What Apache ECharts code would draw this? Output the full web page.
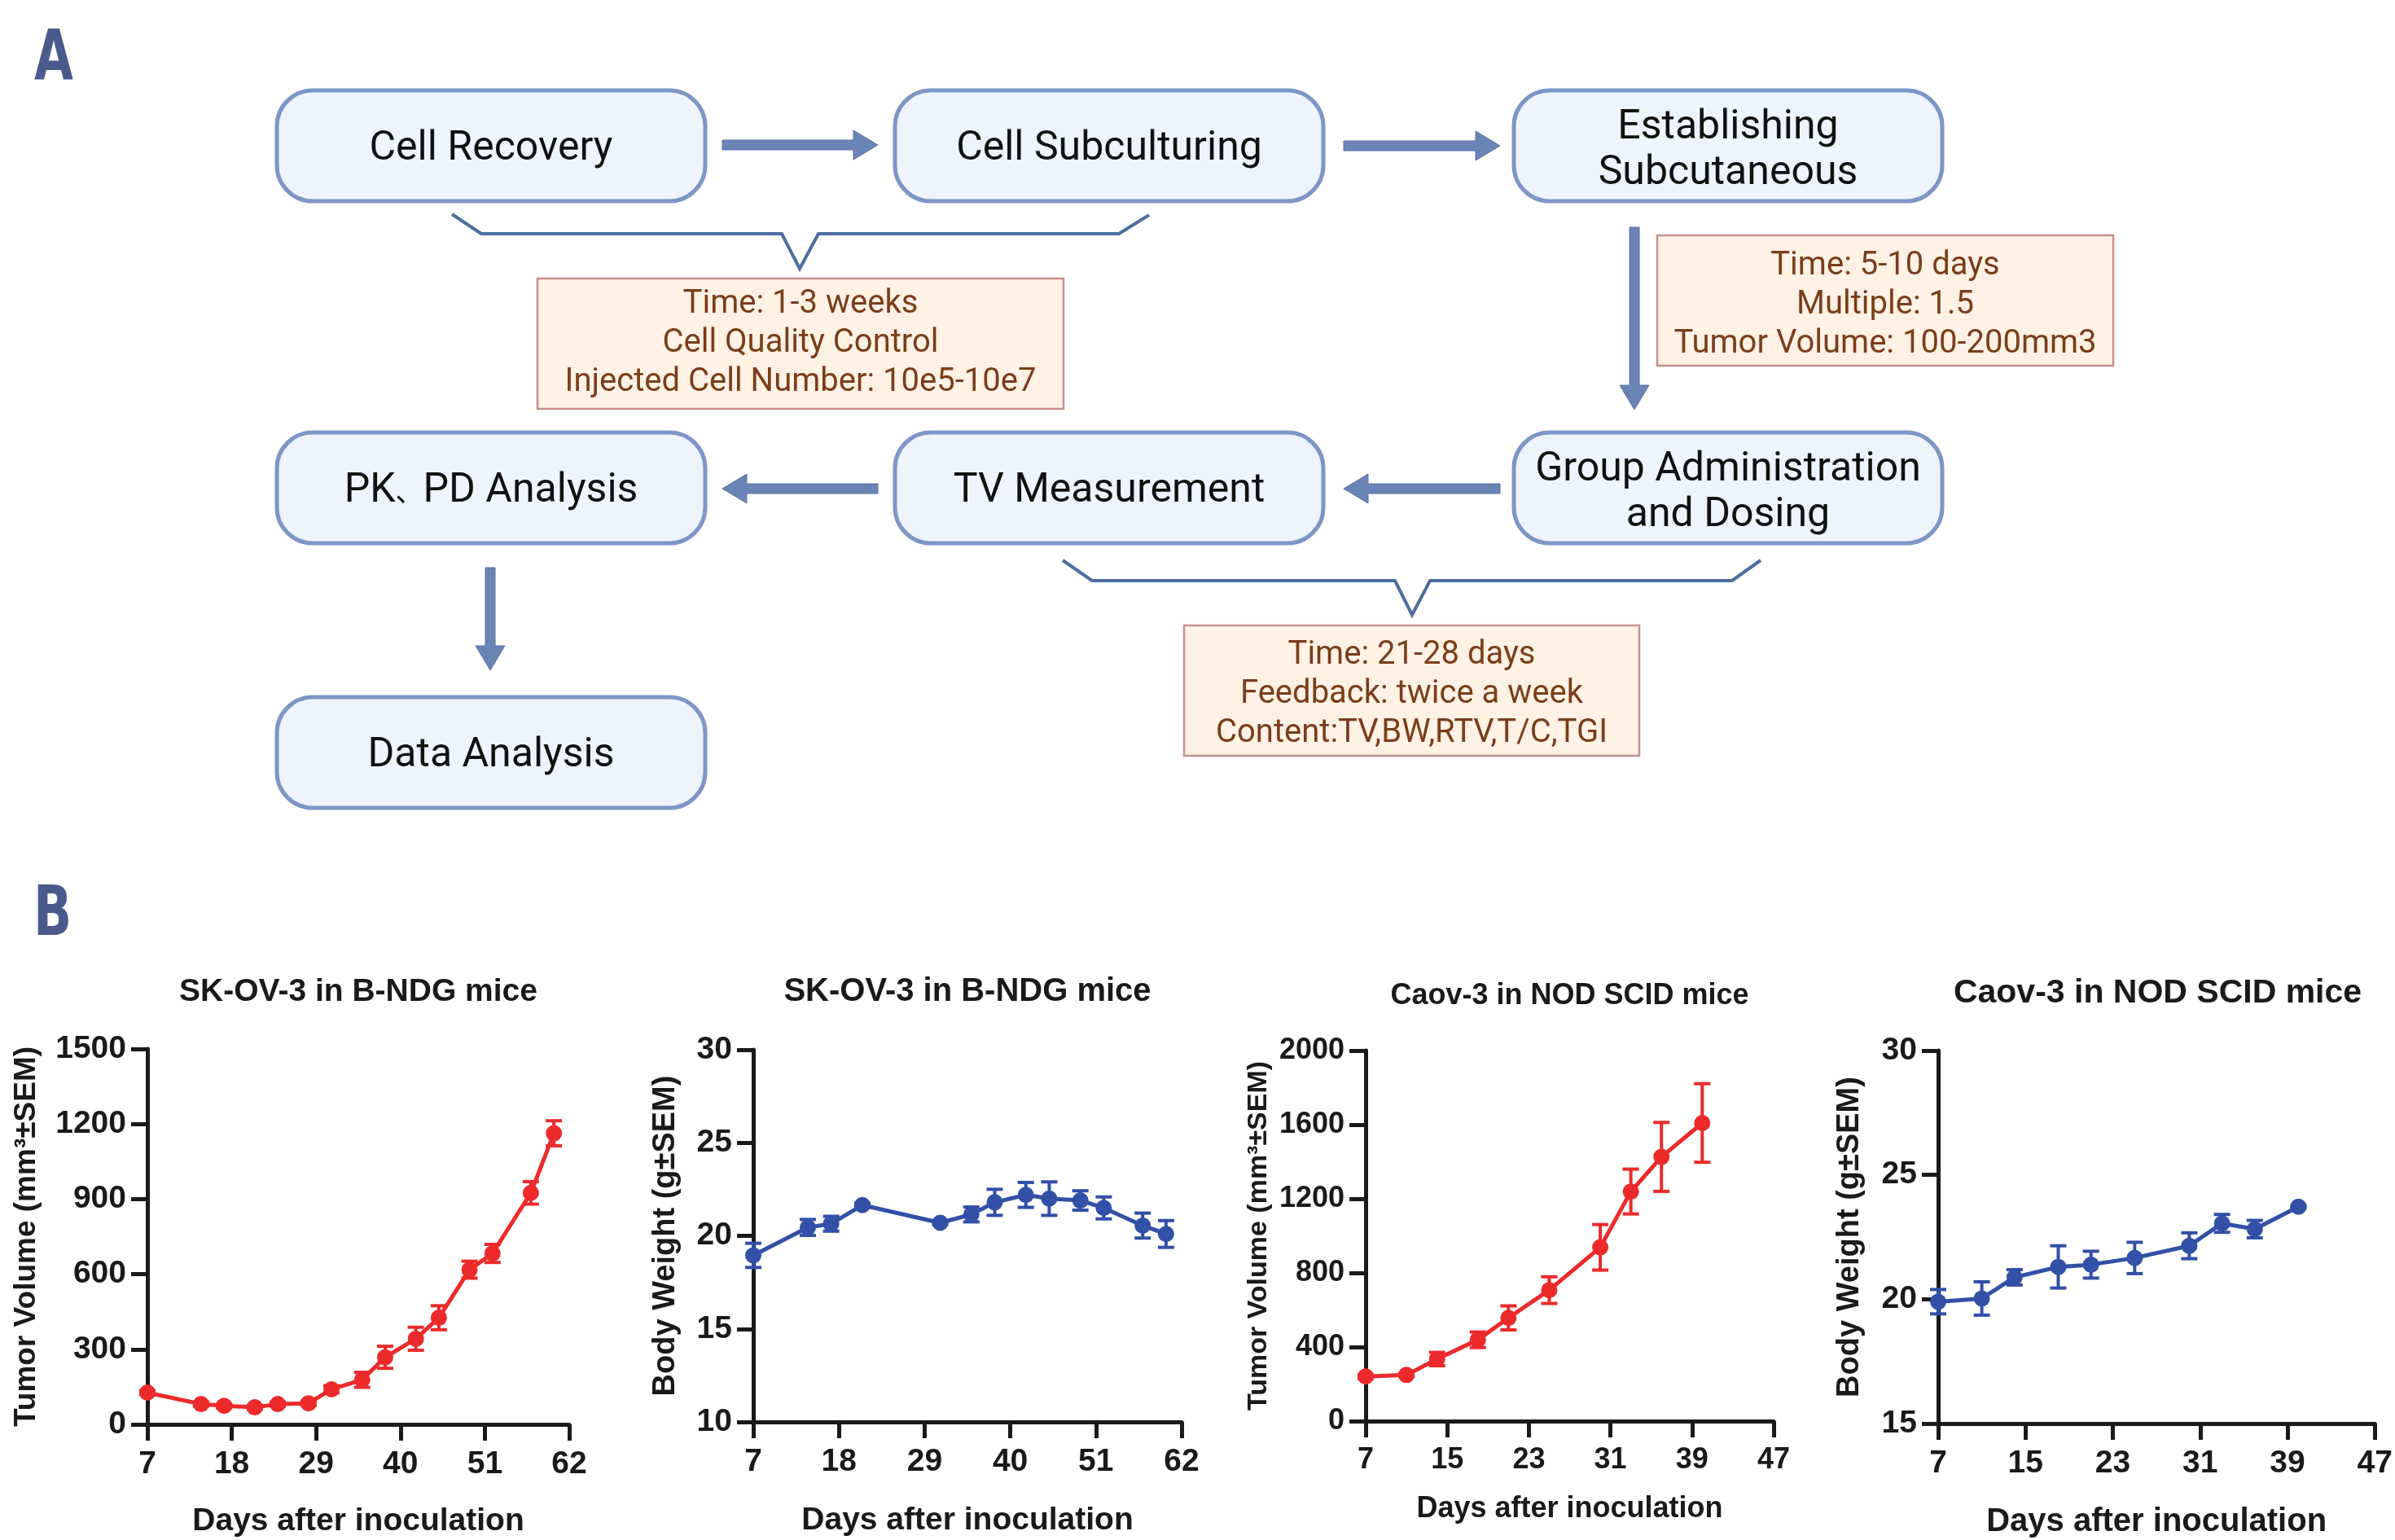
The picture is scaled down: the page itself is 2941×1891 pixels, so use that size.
<!DOCTYPE html>
<html>
<head>
<meta charset="utf-8">
<script src="https://cdn.jsdelivr.net/npm/echarts@6/dist/echarts.min.js"></script>
<style>
html,body{margin:0;padding:0;background:#fff;}
#c{width:2941px;height:1891px;}
</style>
</head>
<body>
<div id="c"></div>
<script>
// ---------- DATA ----------
const svTvDays = [7, 14, 17, 21, 24, 28, 31, 35, 38, 42, 45, 49, 52, 57, 60];
const svTvMean = [127, 81, 74, 68, 81, 84, 140, 178, 268, 342, 426, 618, 683, 925, 1163];
const svTvSem  = [8, 8, 8, 8, 8, 8, 14, 30, 44, 46, 48, 34, 36, 45, 50];

const svBwDays = [7, 14, 17, 21, 31, 35, 38, 42, 45, 49, 52, 57, 60];
const svBwMean = [18.95, 20.45, 20.65, 21.65, 20.7, 21.15, 21.8, 22.2, 22.0, 21.9, 21.5, 20.55, 20.1];
const svBwSem  = [0.65, 0.43, 0.4, 0.1, 0.1, 0.4, 0.7, 0.67, 0.9, 0.52, 0.59, 0.67, 0.72];

const caTvDays = [7, 11, 14, 18, 21, 25, 30, 33, 36, 40];
const caTvMean = [241, 249, 335, 439, 557, 707, 938, 1239, 1426, 1609];
const caTvSem  = [10, 10, 36, 42, 65, 72, 123, 121, 186, 212];

const caBwDays = [7, 11, 14, 18, 21, 25, 30, 33, 36, 40];
const caBwMean = [19.9, 20.03, 20.88, 21.3, 21.39, 21.66, 22.15, 23.05, 22.82, 23.72];
const caBwSem  = [0.49, 0.67, 0.31, 0.85, 0.54, 0.63, 0.52, 0.36, 0.35, 0.05];

const svXTicks = [7, 18, 29, 40, 51, 62];
const caXTicks = [7, 15, 23, 31, 39, 47];
const svTvYTicks = [0, 300, 600, 900, 1200, 1500];
const svBwYTicks = [10, 15, 20, 25, 30];
const caTvYTicks = [0, 400, 800, 1200, 1600, 2000];
const caBwYTicks = [15, 20, 25, 30];

const titles = ['SK-OV-3 in B-NDG mice', 'SK-OV-3 in B-NDG mice', 'Caov-3 in NOD SCID mice', 'Caov-3 in NOD SCID mice'];
const yNames = ['Tumor Volume (mm\u00B3\u00B1SEM)', 'Body Weight (g\u00B1SEM)', 'Tumor Volume (mm\u00B3\u00B1SEM)', 'Body Weight (g\u00B1SEM)'];
const xName = 'Days after inoculation';

const flowBoxes = ['Cell Recovery', 'Cell Subculturing', 'Establishing\nSubcutaneous', '{a|PK}{b|\u3001}{a|PD Analysis}', 'TV Measurement', 'Group Administration\nand Dosing', 'Data Analysis'];
const infoTexts = [
  'Time: 1-3 weeks\nCell Quality Control\nInjected Cell Number: 10e5-10e7',
  'Time: 5-10 days\nMultiple: 1.5\nTumor Volume: 100-200mm3',
  'Time: 21-28 days\nFeedback: twice a week\nContent:TV,BW,RTV,T/C,TGI'
];

// ---------- STYLE ----------
const RED = '#EC2A2B', BLUE = '#3150A6', INK = '#1a1a1a';
const FONT = "'Liberation Sans', Arial, sans-serif";
const RFONT = "Roboto, 'Noto Sans', sans-serif";

// ---------- PANEL A GRAPHICS ----------
const g = [];
function addText(text, x, y, size, color, family, weight, lh, align, extra) {
  const el = {type:'text', z:10, style:{text, x, y, fontSize:size, fontFamily:family, fontWeight:weight||'normal',
    fill:color, align:align||'center', textAlign:align||'center', verticalAlign:'middle', textVerticalAlign:'middle', lineHeight:lh||size*1.2}};
  if (extra) Object.assign(el.style, extra);
  g.push(el);
}
const colX = [340, 1099, 1859], rowY = [111, 531, 856];
const boxW = 526, boxH = 136;
const boxPos = [[0,0],[1,0],[2,0],[0,1],[1,1],[2,1],[0,2]];
boxPos.forEach((p, i) => {
  const x = colX[p[0]], y = rowY[p[1]];
  g.push({type:'rect', shape:{x, y, width:boxW, height:boxH, r:44}, style:{fill:'#EEF4FD', stroke:'#7E96C5', lineWidth:5}});
  const multi = flowBoxes[i].indexOf('\n') >= 0;
  addText(flowBoxes[i], x + boxW/2, y + boxH/2 + (multi ? 6 : 4), 50, '#111', RFONT, 'normal', 56, 'center', {
    rich:{a:{fontSize:50, fontFamily:RFONT, fill:'#111'}, b:{fontSize:34, fontFamily:"'Noto Sans CJK SC', sans-serif", fill:'#111', padding:[0,0,0,0]}}
  });
});
const infoBox = [[660, 342, 646, 160], [2035, 289, 560, 160], [1454, 768, 559, 160]];
const infoCy = [422, 375, 853];
infoBox.forEach((b, i) => {
  g.push({type:'rect', shape:{x:b[0], y:b[1], width:b[2], height:b[3]}, style:{fill:'#FFF2E4', stroke:'#C88E8E', lineWidth:2.5}});
  addText(infoTexts[i], b[0] + b[2]/2, infoCy[i], 40, '#7A3D1C', RFONT, 'normal', 48);
});
const ARROW = '#6A84B5';
function hArrow(x0, x1, y) {
  const d = x1 > x0 ? 1 : -1, hl = 30 * d;
  g.push({type:'polygon', shape:{points:[[x0,y-6],[x1-hl,y-6],[x1-hl,y-18],[x1,y],[x1-hl,y+18],[x1-hl,y+6],[x0,y+6]]}, style:{fill:ARROW, stroke:'#5b73a3', lineWidth:1}});
}
function vArrow(x, y0, y1) {
  const hl = 30;
  g.push({type:'polygon', shape:{points:[[x-6,y0],[x+6,y0],[x+6,y1-hl],[x+18,y1-hl],[x,y1],[x-18,y1-hl],[x-6,y1-hl]]}, style:{fill:ARROW, stroke:'#5b73a3', lineWidth:1}});
}
hArrow(887, 1078, 178);
hArrow(1650, 1842, 179);
vArrow(2007, 279, 503);
hArrow(1842, 1650, 600);
hArrow(1078, 887, 600);
vArrow(602, 697, 823);
const BR = '#4E6E9F';
g.push({type:'polyline', shape:{points:[[555,263],[591,287],[960,287],[982,330],[1005,287],[1374,287],[1411,264]]}, style:{stroke:BR, lineWidth:4, fill:null}});
g.push({type:'polyline', shape:{points:[[1305,688],[1341,713],[1713,713],[1734,755],[1756,713],[2127,713],[2162,688]]}, style:{stroke:BR, lineWidth:4, fill:null}});
const LBL = "'Liberation Sans Narrow', 'DejaVu Sans Condensed', 'Liberation Sans', sans-serif";
[['A', 42, 75], ['B', 41, 1126]].forEach(a => {
  g.push({type:'text', z:10, x:a[1], y:a[2], scaleX:0.8, scaleY:1,
    style:{text:a[0], x:0, y:0, fontSize:86, fontFamily:LBL, fontWeight:'bold', fill:'#4A5A8C',
      align:'left', textAlign:'left', verticalAlign:'middle', textVerticalAlign:'middle'}});
});

// ---------- CHARTS ----------
const grids = [
  {left:181, top:1288, width:518, height:461},
  {left:925, top:1289, width:526, height:457},
  {left:1677, top:1290, width:501, height:455},
  {left:2380, top:1290, width:539, height:458}
];
const titleSize = [39, 40, 36, 41];
const titleY = [1218, 1218, 1223, 1220];
const tickSize = [39, 39, 36, 39];
const xNameSize = [39, 39, 36, 40];
const xNameGap = [100, 102, 90, 101];
const yNameSize = [37, 38, 34, 38];
const yNameGap = [130, 88, 114, 89];
const xTicksAll = [svXTicks, svXTicks, caXTicks, caXTicks];
const yTicksAll = [svTvYTicks, svBwYTicks, caTvYTicks, caBwYTicks];
const sets = [
  [svTvDays, svTvMean, svTvSem, RED],
  [svBwDays, svBwMean, svBwSem, BLUE],
  [caTvDays, caTvMean, caTvSem, RED],
  [caBwDays, caBwMean, caBwSem, BLUE]
];

grids.forEach((gr, i) => {
  addText(titles[i], gr.left + gr.width/2, titleY[i], titleSize[i], INK, FONT, 'bold');
});

function axisBase(i) {
  return {
    type:'value', gridIndex:i,
    axisLine:{show:true, onZero:false, lineStyle:{color:INK, width:5}},
    axisTick:{show:true, length:20, lineStyle:{color:INK, width:5}},
    splitLine:{show:false},
    axisLabel:{color:INK, fontSize:tickSize[i], fontWeight:'bold', fontFamily:FONT, formatter: v => String(v)}
  };
}
const xAxes = [], yAxes = [], series = [];
for (let i = 0; i < 4; i++) {
  const xt = xTicksAll[i], yt = yTicksAll[i];
  const xa = axisBase(i);
  Object.assign(xa, {min:xt[0], max:xt[xt.length-1], interval:xt[1]-xt[0],
    name:xName, nameLocation:'middle', nameGap:xNameGap[i],
    nameTextStyle:{color:INK, fontSize:xNameSize[i], fontWeight:'bold', fontFamily:FONT}});
  xa.axisLabel.margin = 30;
  xAxes.push(xa);
  const ya = axisBase(i);
  Object.assign(ya, {min:yt[0], max:yt[yt.length-1], interval:yt[1]-yt[0],
    name:yNames[i], nameLocation:'middle', nameGap:yNameGap[i], nameRotate:90,
    nameTextStyle:{color:INK, fontSize:yNameSize[i], fontWeight:'bold', fontFamily:FONT}});
  ya.axisLabel.margin = 26;
  yAxes.push(ya);

  const [days, mean, sem, col] = sets[i];
  series.push({
    type:'custom', xAxisIndex:i, yAxisIndex:i, z:2, silent:true,
    data: days.map((d, k) => [d, mean[k], sem[k]]),
    encode:{x:0, y:1},
    renderItem: function (params, api) {
      const x = api.value(0), m = api.value(1), s = api.value(2);
      const top = api.coord([x, m + s]), bot = api.coord([x, m - s]);
      const hw = 10, st = {stroke:col, lineWidth:4};
      return {type:'group', children:[
        {type:'line', shape:{x1:top[0], y1:top[1], x2:bot[0], y2:bot[1]}, style:st},
        {type:'line', shape:{x1:top[0]-hw, y1:top[1], x2:top[0]+hw, y2:top[1]}, style:st},
        {type:'line', shape:{x1:bot[0]-hw, y1:bot[1], x2:bot[0]+hw, y2:bot[1]}, style:st}
      ]};
    }
  });
  series.push({
    type:'line', xAxisIndex:i, yAxisIndex:i, z:3,
    data: days.map((d, k) => [d, mean[k]]),
    symbol:'circle', symbolSize:20, showSymbol:true,
    lineStyle:{color:col, width:5}, itemStyle:{color:col}
  });
}

const chart = echarts.init(document.getElementById('c'), null, {renderer:'canvas', width:2941, height:1891});
chart.setOption({
  backgroundColor:'#ffffff',
  animation:false,
  grid: grids,
  xAxis: xAxes,
  yAxis: yAxes,
  series: series,
  graphic: {elements: g}
});
</script>
</body>
</html>
